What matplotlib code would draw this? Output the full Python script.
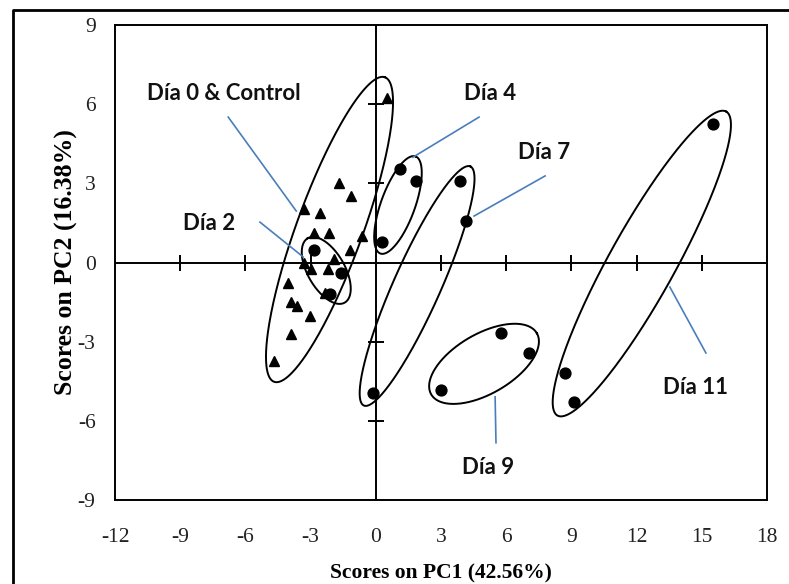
import numpy as np
import matplotlib
matplotlib.use("Agg")
import matplotlib.pyplot as plt
from matplotlib.lines import Line2D

# ---- data ----
tri_x = [-1.68, -1.16, -3.29, -2.55, -2.83, -2.15, -0.62, -1.17, -1.91, -3.32,
         -2.98, -2.21, -4.03, -3.90, -3.63, -3.01, -3.90, -4.67, -2.34, 0.53]
tri_y = [3.02, 2.52, 2.02, 1.86, 1.13, 1.13, 1.00, 0.47, 0.12, -0.03,
         -0.26, -0.26, -0.76, -1.48, -1.65, -2.03, -2.71, -3.72, -1.14, 6.24]

dia2_x = [-2.83, -1.60, -2.09]
dia2_y = [0.47, -0.40, -1.19]
dia4_x = [0.27, 1.11, 1.84]
dia4_y = [0.79, 3.53, 3.09]
dia7_x = [-0.14, 3.87, 4.15]
dia7_y = [-4.93, 3.09, 1.57]
dia9_x = [2.99, 5.76, 7.05]
dia9_y = [-4.83, -2.66, -3.42]
dia11_x = [8.72, 9.12, 15.50]
dia11_y = [-4.20, -5.27, 5.25]

# ellipses: center, half major-axis vector (data units), minor/major ratio
ell_names = ["Día 0 & Control", "Día 2", "Día 4", "Día 7", "Día 9", "Día 11"]
ell_cx = [-2.13, -2.28, 1.02, 1.90, 4.98, 12.24]
ell_cy = [1.25, -0.30, 2.18, -0.89, -3.84, -0.04]
ell_tx = [2.55, -0.85, 0.81, 2.45, 2.43, 3.88]
ell_ty = [5.77, 1.22, 1.84, 4.53, 1.16, 5.76]
ell_ratio = [0.204, 0.50, 0.33, 0.18, 0.49, 0.19]

# labels and leader lines
lab_text = ["Día 0 & Control", "Día 2", "Día 4", "Día 7", "Día 9", "Día 11"]
lab_x = [-6.99, -7.67, 5.25, 7.74, 5.16, 14.69]
lab_y = [6.42, 1.46, 6.42, 4.15, -7.75, -4.72]
lead_x0 = [-6.79, -5.33, 4.75, 7.79, 5.49, 13.53]
lead_y0 = [5.51, 1.53, 5.51, 3.28, -5.09, -0.93]
lead_x1 = [-3.66, -3.34, 1.71, 4.52, 5.53, 15.19]
lead_y1 = [1.95, 0.21, 3.99, 1.76, -6.83, -3.43]

xticks = [-12, -9, -6, -3, 0, 3, 6, 9, 12, 15, 18]
yticks = [-9, -6, -3, 0, 3, 6, 9]
xlim = (-12, 18)
ylim = (-9, 9)

# ---- figure ----
W, H = 789, 584
fig = plt.figure(figsize=(W / 100, H / 100), dpi=100)
ax = fig.add_axes([115 / W, 1 - 500 / H, 652 / W, 475 / H])
ax.set_xlim(*xlim)
ax.set_ylim(*ylim)
for s in ax.spines.values():
    s.set_linewidth(1.4)
    s.set_color("black")

serif = "Liberation Serif"
ax.set_xticks(xticks)
ax.set_yticks(yticks)
ax.set_xticklabels([str(t) for t in xticks], fontfamily=serif, fontsize=15.5,
                   color="#222222")
ax.set_yticklabels([str(t) for t in yticks], fontfamily=serif, fontsize=15.5,
                   color="#222222")
ax.tick_params(axis="both", length=0)
ax.tick_params(axis="x", pad=20)
ax.tick_params(axis="y", pad=14)

ax.set_xlabel("Scores on PC1 (42.56%)", fontfamily=serif, fontweight="bold",
              fontsize=15.5, labelpad=12)
ax.set_ylabel("Scores on PC2 (16.38%)", fontfamily=serif, fontweight="bold",
              fontsize=18.5, labelpad=0)

# center axes
ax.axhline(0, color="black", lw=1.4, zorder=2)
ax.axvline(0, color="black", lw=1.4, zorder=2)
cx_ticks = [t for t in xticks if t not in (xlim[0], 0, xlim[1])]
cy_ticks = [t for t in yticks if t not in (ylim[0], 0, ylim[1])]
ax.plot(cx_ticks, [0] * len(cx_ticks), ls="none", marker="|", ms=11,
        mew=1.4, color="black", zorder=2)
ax.plot([0] * len(cy_ticks), cy_ticks, ls="none", marker="_", ms=11,
        mew=1.4, color="black", zorder=2)

# points
ax.plot(tri_x, tri_y, ls="none", marker="^", ms=7.5, color="black", zorder=4)
for gx, gy in [(dia2_x, dia2_y), (dia4_x, dia4_y), (dia7_x, dia7_y),
               (dia9_x, dia9_y), (dia11_x, dia11_y)]:
    ax.plot(gx, gy, ls="none", marker="o", ms=7.8, color="black", zorder=4)

# ellipses (perpendicular minor axis computed in display space)
sx = 652 / (xlim[1] - xlim[0])
sy = 475 / (ylim[1] - ylim[0])
t = np.linspace(0, 2 * np.pi, 400)
for cx, cy, tx, ty, r in zip(ell_cx, ell_cy, ell_tx, ell_ty, ell_ratio):
    mx = -r * ty * sy / sx
    my = r * tx * sx / sy
    ex = cx + np.cos(t) * tx + np.sin(t) * mx
    ey = cy + np.cos(t) * ty + np.sin(t) * my
    ax.plot(ex, ey, color="black", lw=1.4, zorder=3)

# leader lines and labels
lead_color = "#4a7ebb"
for x0, y0, x1, y1 in zip(lead_x0, lead_y0, lead_x1, lead_y1):
    ax.plot([x0, x1], [y0, y1], color=lead_color, lw=1.2, zorder=3)
for txt, x, y in zip(lab_text, lab_x, lab_y):
    ax.text(x, y, txt, ha="center", va="center", fontfamily="Lato",
            fontweight="bold", fontsize=16, color="#111111", zorder=5)

# outer border (top and left visible)
fig.add_artist(Line2D([13 / W, 13 / W, 1.0], [0.0, 1 - 10 / H, 1 - 10 / H],
                      transform=fig.transFigure, color="black", lw=2.0))

fig.savefig("out.png", dpi=100)
